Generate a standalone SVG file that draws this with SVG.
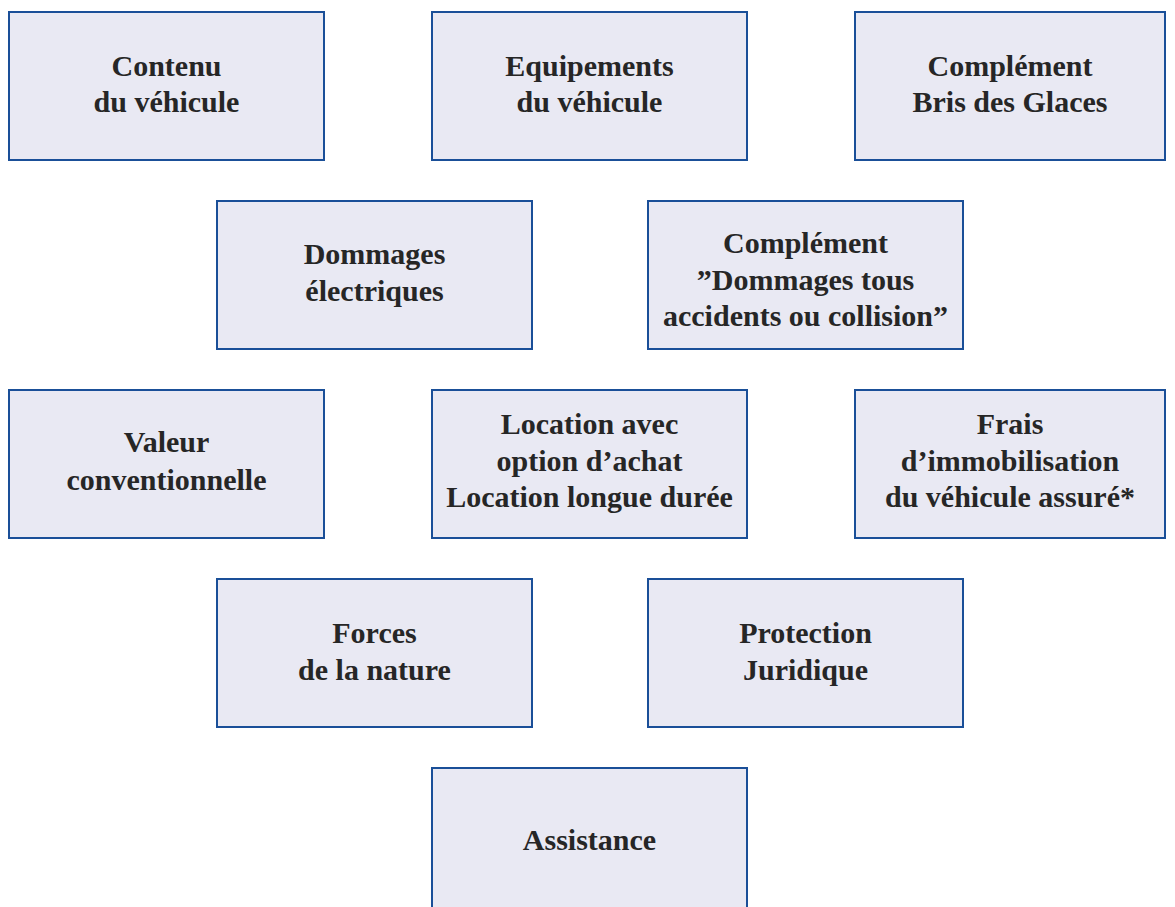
<svg xmlns="http://www.w3.org/2000/svg" width="1175" height="907" viewBox="0 0 1175 907">
<style>
.b{fill:#e9e9f3;stroke:#1a4f98;stroke-width:2}
.t{font-family:"Liberation Serif","DejaVu Serif",serif;font-weight:bold;font-size:30px;fill:#262626;text-anchor:middle}
</style>
<rect width="1175" height="907" fill="#fff"/>
<g id="connectors"/>
<g id="n1"><rect class="b" x="9" y="12" width="315" height="148"/><text class="t" x="166.5" y="75.5">Contenu</text><text class="t" x="166.5" y="112">du véhicule</text></g>
<g id="n2"><rect class="b" x="432" y="12" width="315" height="148"/><text class="t" x="589.5" y="75.5">Equipements</text><text class="t" x="589.5" y="112">du véhicule</text></g>
<g id="n3"><rect class="b" x="855" y="12" width="310" height="148"/><text class="t" x="1010" y="75.5">Complément</text><text class="t" x="1010" y="112">Bris des Glaces</text></g>
<g id="n4"><rect class="b" x="217" y="201" width="315" height="148"/><text class="t" x="374.5" y="263.5">Dommages</text><text class="t" x="374.5" y="300.5">électriques</text></g>
<g id="n5"><rect class="b" x="648" y="201" width="315" height="148"/><text class="t" x="805.5" y="252.5">Complément</text><text class="t" x="805.5" y="289.5">”Dommages tous</text><text class="t" x="805.5" y="326">accidents ou collision”</text></g>
<g id="n6"><rect class="b" x="9" y="390" width="315" height="148"/><text class="t" x="166.5" y="451.5">Valeur</text><text class="t" x="166.5" y="489.5">conventionnelle</text></g>
<g id="n7"><rect class="b" x="432" y="390" width="315" height="148"/><text class="t" x="589.5" y="433.5">Location avec</text><text class="t" x="589.5" y="470.5">option d’achat</text><text class="t" x="589.5" y="507">Location longue durée</text></g>
<g id="n8"><rect class="b" x="855" y="390" width="310" height="148"/><text class="t" x="1010" y="433.5">Frais</text><text class="t" x="1010" y="470.5">d’immobilisation</text><text class="t" x="1010" y="507">du véhicule assuré*</text></g>
<g id="n9"><rect class="b" x="217" y="579" width="315" height="148"/><text class="t" x="374.5" y="642.5">Forces</text><text class="t" x="374.5" y="679.5">de la nature</text></g>
<g id="n10"><rect class="b" x="648" y="579" width="315" height="148"/><text class="t" x="805.5" y="642.5">Protection</text><text class="t" x="805.5" y="679.5">Juridique</text></g>
<g id="n11"><rect class="b" x="432" y="768" width="315" height="148"/><text class="t" x="589.5" y="849.5">Assistance</text></g>
</svg>
